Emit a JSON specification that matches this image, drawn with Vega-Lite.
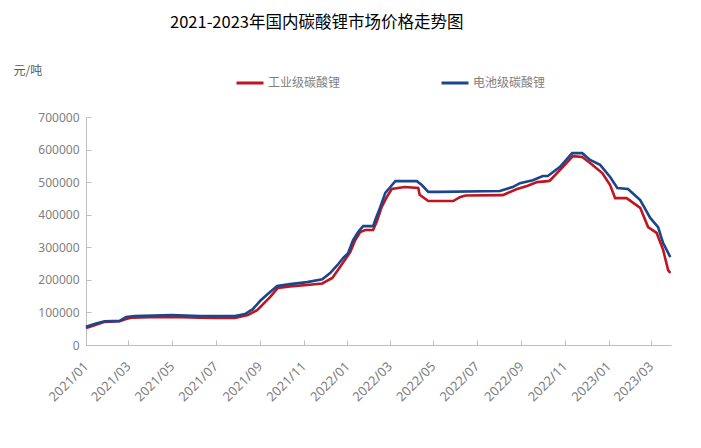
{
  "$schema": "https://vega.github.io/schema/vega-lite/v6.json",
  "width": 585,
  "height": 228,
  "autosize": "none",
  "padding": {"left": 86, "top": 117, "right": 30, "bottom": 103},
  "background": "#ffffff",
  "config": {"view": {"stroke": null}, "font": "Liberation Sans"},
  "title": {
    "text": "2021-2023年国内碳酸锂市场价格走势图",
    "anchor": "start",
    "frame": "group",
    "dx": 84,
    "offset": 25,
    "baseline": "middle",
    "font": "Noto Sans CJK SC",
    "fontSize": 16.5,
    "fontWeight": "normal",
    "color": "#000000"
  },
  "data": {
    "values": [
      {"date": "2021-01-01", "type": "工业级碳酸锂", "price": 52000},
      {"date": "2021-01-15", "type": "工业级碳酸锂", "price": 62000},
      {"date": "2021-01-27", "type": "工业级碳酸锂", "price": 71000},
      {"date": "2021-02-17", "type": "工业级碳酸锂", "price": 73000},
      {"date": "2021-02-26", "type": "工业级碳酸锂", "price": 80000},
      {"date": "2021-03-05", "type": "工业级碳酸锂", "price": 84000},
      {"date": "2021-03-31", "type": "工业级碳酸锂", "price": 85000},
      {"date": "2021-05-01", "type": "工业级碳酸锂", "price": 86000},
      {"date": "2021-06-09", "type": "工业级碳酸锂", "price": 84000},
      {"date": "2021-06-29", "type": "工业级碳酸锂", "price": 83000},
      {"date": "2021-07-28", "type": "工业级碳酸锂", "price": 83000},
      {"date": "2021-08-15", "type": "工业级碳酸锂", "price": 92000},
      {"date": "2021-08-28", "type": "工业级碳酸锂", "price": 107000},
      {"date": "2021-09-05", "type": "工业级碳酸锂", "price": 125000},
      {"date": "2021-09-15", "type": "工业级碳酸锂", "price": 147000},
      {"date": "2021-09-26", "type": "工业级碳酸锂", "price": 175000},
      {"date": "2021-10-13", "type": "工业级碳酸锂", "price": 180000},
      {"date": "2021-11-06", "type": "工业级碳酸锂", "price": 184000},
      {"date": "2021-11-27", "type": "工业级碳酸锂", "price": 189000},
      {"date": "2021-12-11", "type": "工业级碳酸锂", "price": 206000},
      {"date": "2021-12-22", "type": "工业级碳酸锂", "price": 240000},
      {"date": "2022-01-05", "type": "工业级碳酸锂", "price": 285000},
      {"date": "2022-01-12", "type": "工业级碳酸锂", "price": 322000},
      {"date": "2022-01-19", "type": "工业级碳酸锂", "price": 347000},
      {"date": "2022-01-26", "type": "工业级碳酸锂", "price": 353000},
      {"date": "2022-02-06", "type": "工业级碳酸锂", "price": 353000},
      {"date": "2022-02-11", "type": "工业级碳酸锂", "price": 378000},
      {"date": "2022-02-18", "type": "工业级碳酸锂", "price": 424000},
      {"date": "2022-02-25", "type": "工业级碳酸锂", "price": 454000},
      {"date": "2022-03-04", "type": "工业级碳酸锂", "price": 479000},
      {"date": "2022-03-22", "type": "工业级碳酸锂", "price": 485000},
      {"date": "2022-04-10", "type": "工业级碳酸锂", "price": 482000},
      {"date": "2022-04-12", "type": "工业级碳酸锂", "price": 461000},
      {"date": "2022-04-24", "type": "工业级碳酸锂", "price": 442000},
      {"date": "2022-05-29", "type": "工业级碳酸锂", "price": 442000},
      {"date": "2022-06-07", "type": "工业级碳酸锂", "price": 454000},
      {"date": "2022-06-15", "type": "工业级碳酸锂", "price": 459000},
      {"date": "2022-08-06", "type": "工业级碳酸锂", "price": 460000},
      {"date": "2022-08-26", "type": "工业级碳酸锂", "price": 479000},
      {"date": "2022-09-09", "type": "工业级碳酸锂", "price": 488000},
      {"date": "2022-09-23", "type": "工业级碳酸锂", "price": 500000},
      {"date": "2022-10-08", "type": "工业级碳酸锂", "price": 503000},
      {"date": "2022-10-11", "type": "工业级碳酸锂", "price": 505000},
      {"date": "2022-10-29", "type": "工业级碳酸锂", "price": 547000},
      {"date": "2022-11-12", "type": "工业级碳酸锂", "price": 580000},
      {"date": "2022-11-25", "type": "工业级碳酸锂", "price": 577000},
      {"date": "2022-12-06", "type": "工业级碳酸锂", "price": 559000},
      {"date": "2022-12-23", "type": "工业级碳酸锂", "price": 528000},
      {"date": "2023-01-03", "type": "工业级碳酸锂", "price": 491000},
      {"date": "2023-01-10", "type": "工业级碳酸锂", "price": 451000},
      {"date": "2023-01-26", "type": "工业级碳酸锂", "price": 451000},
      {"date": "2023-02-14", "type": "工业级碳酸锂", "price": 421000},
      {"date": "2023-02-25", "type": "工业级碳酸锂", "price": 362000},
      {"date": "2023-03-09", "type": "工业级碳酸锂", "price": 344000},
      {"date": "2023-03-18", "type": "工业级碳酸锂", "price": 292000},
      {"date": "2023-03-25", "type": "工业级碳酸锂", "price": 230000},
      {"date": "2023-03-28", "type": "工业级碳酸锂", "price": 221000},
      {"date": "2021-01-01", "type": "电池级碳酸锂", "price": 56000},
      {"date": "2021-01-15", "type": "电池级碳酸锂", "price": 66000},
      {"date": "2021-01-27", "type": "电池级碳酸锂", "price": 73000},
      {"date": "2021-02-17", "type": "电池级碳酸锂", "price": 74000},
      {"date": "2021-02-26", "type": "电池级碳酸锂", "price": 86000},
      {"date": "2021-03-10", "type": "电池级碳酸锂", "price": 89000},
      {"date": "2021-05-01", "type": "电池级碳酸锂", "price": 92000},
      {"date": "2021-06-09", "type": "电池级碳酸锂", "price": 89000},
      {"date": "2021-07-28", "type": "电池级碳酸锂", "price": 89000},
      {"date": "2021-08-11", "type": "电池级碳酸锂", "price": 95000},
      {"date": "2021-08-22", "type": "电池级碳酸锂", "price": 110000},
      {"date": "2021-09-01", "type": "电池级碳酸锂", "price": 135000},
      {"date": "2021-09-11", "type": "电池级碳酸锂", "price": 155000},
      {"date": "2021-09-25", "type": "电池级碳酸锂", "price": 181000},
      {"date": "2021-10-13", "type": "电池级碳酸锂", "price": 187000},
      {"date": "2021-11-06", "type": "电池级碳酸锂", "price": 193000},
      {"date": "2021-11-27", "type": "电池级碳酸锂", "price": 202000},
      {"date": "2021-12-08", "type": "电池级碳酸锂", "price": 221000},
      {"date": "2021-12-18", "type": "电池级碳酸锂", "price": 245000},
      {"date": "2021-12-26", "type": "电池级碳酸锂", "price": 267000},
      {"date": "2022-01-02", "type": "电池级碳酸锂", "price": 282000},
      {"date": "2022-01-09", "type": "电池级碳酸锂", "price": 322000},
      {"date": "2022-01-16", "type": "电池级碳酸锂", "price": 347000},
      {"date": "2022-01-23", "type": "电池级碳酸锂", "price": 365000},
      {"date": "2022-02-06", "type": "电池级碳酸锂", "price": 365000},
      {"date": "2022-02-09", "type": "电池级碳酸锂", "price": 384000},
      {"date": "2022-02-16", "type": "电池级碳酸锂", "price": 424000},
      {"date": "2022-02-23", "type": "电池级碳酸锂", "price": 467000},
      {"date": "2022-03-02", "type": "电池级碳酸锂", "price": 485000},
      {"date": "2022-03-09", "type": "电池级碳酸锂", "price": 503000},
      {"date": "2022-04-08", "type": "电池级碳酸锂", "price": 503000},
      {"date": "2022-04-15", "type": "电池级碳酸锂", "price": 491000},
      {"date": "2022-04-24", "type": "电池级碳酸锂", "price": 470000},
      {"date": "2022-05-10", "type": "电池级碳酸锂", "price": 470000},
      {"date": "2022-08-02", "type": "电池级碳酸锂", "price": 473000},
      {"date": "2022-08-20", "type": "电池级碳酸锂", "price": 485000},
      {"date": "2022-08-30", "type": "电池级碳酸锂", "price": 497000},
      {"date": "2022-09-17", "type": "电池级碳酸锂", "price": 506000},
      {"date": "2022-10-01", "type": "电池级碳酸锂", "price": 519000},
      {"date": "2022-10-08", "type": "电池级碳酸锂", "price": 519000},
      {"date": "2022-10-25", "type": "电池级碳酸锂", "price": 547000},
      {"date": "2022-11-11", "type": "电池级碳酸锂", "price": 589000},
      {"date": "2022-11-25", "type": "电池级碳酸锂", "price": 589000},
      {"date": "2022-12-06", "type": "电池级碳酸锂", "price": 568000},
      {"date": "2022-12-20", "type": "电池级碳酸锂", "price": 553000},
      {"date": "2023-01-03", "type": "电池级碳酸锂", "price": 516000},
      {"date": "2023-01-13", "type": "电池级碳酸锂", "price": 482000},
      {"date": "2023-01-28", "type": "电池级碳酸锂", "price": 479000},
      {"date": "2023-02-14", "type": "电池级碳酸锂", "price": 445000},
      {"date": "2023-02-28", "type": "电池级碳酸锂", "price": 390000},
      {"date": "2023-03-11", "type": "电池级碳酸锂", "price": 362000},
      {"date": "2023-03-18", "type": "电池级碳酸锂", "price": 313000},
      {"date": "2023-03-28", "type": "电池级碳酸锂", "price": 270000}
    ]
  },
  "mark": {"type": "line", "strokeWidth": 2.6, "interpolate": "linear"},
  "encoding": {
    "x": {
      "field": "date",
      "type": "temporal",
      "scale": {"type": "utc", "domain": [{"year": 2021, "month": 1, "date": 1, "utc": true}, {"year": 2023, "month": 3, "date": 29, "utc": true}]},
      "axis": {
        "title": null,
        "values": [
          {"year": 2021, "month": 1, "date": 1, "utc": true},
          {"year": 2021, "month": 3, "date": 1, "utc": true},
          {"year": 2021, "month": 5, "date": 1, "utc": true},
          {"year": 2021, "month": 7, "date": 1, "utc": true},
          {"year": 2021, "month": 9, "date": 1, "utc": true},
          {"year": 2021, "month": 11, "date": 1, "utc": true},
          {"year": 2022, "month": 1, "date": 1, "utc": true},
          {"year": 2022, "month": 3, "date": 1, "utc": true},
          {"year": 2022, "month": 5, "date": 1, "utc": true},
          {"year": 2022, "month": 7, "date": 1, "utc": true},
          {"year": 2022, "month": 9, "date": 1, "utc": true},
          {"year": 2022, "month": 11, "date": 1, "utc": true},
          {"year": 2023, "month": 1, "date": 1, "utc": true},
          {"year": 2023, "month": 3, "date": 1, "utc": true}
        ],
        "labelExpr": "utcFormat(datum.value, '%Y/%m')",
        "labelAngle": -45,
        "labelAlign": "right",
        "labelBaseline": "middle",
        "labelPadding": 24,
        "labelFontSize": 13,
        "labelColor": "#7f7f7f",
        "labelFont": "Noto Sans",
        "labelOverlap": false,
        "labelFlush": false,
        "domainColor": "#bfbfbf",
        "tickColor": "#bfbfbf",
        "tickSize": -5,
        "grid": false
      }
    },
    "y": {
      "field": "price",
      "type": "quantitative",
      "scale": {"domain": [0, 700000], "nice": false},
      "axis": {
        "title": "元/吨",
        "titleAngle": 0,
        "titleX": -73,
        "titleY": -47,
        "titleAlign": "left",
        "titleBaseline": "middle",
        "titleFont": "Noto Sans CJK SC",
        "titleFontSize": 12,
        "titleFontWeight": "normal",
        "titleColor": "#595959",
        "values": [0, 100000, 200000, 300000, 400000, 500000, 600000, 700000],
        "format": "d",
        "labelFontSize": 12,
        "labelColor": "#7f7f7f",
        "labelFont": "Noto Sans",
        "labelPadding": 12,
        "domainColor": "#bfbfbf",
        "tickColor": "#bfbfbf",
        "tickSize": -5,
        "grid": false
      }
    },
    "color": {
      "field": "type",
      "type": "nominal",
      "scale": {"domain": ["工业级碳酸锂", "电池级碳酸锂"], "range": ["#C0141E", "#1A468C"]},
      "legend": {
        "title": null,
        "orient": "none",
        "legendX": 149,
        "legendY": -49,
        "direction": "horizontal",
        "symbolType": "stroke",
        "symbolSize": 729,
        "symbolStrokeWidth": 3,
        "labelFont": "Noto Sans CJK SC",
        "labelFontSize": 12,
        "labelColor": "#7f7f7f",
        "labelOffset": 3,
        "columnPadding": 94
      }
    }
  }
}
